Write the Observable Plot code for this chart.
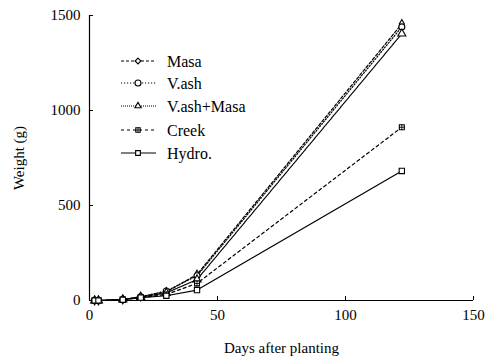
<!DOCTYPE html>
<html><head><meta charset="utf-8">
<script src="https://cdn.jsdelivr.net/npm/d3@7"></script>
<script src="https://cdn.jsdelivr.net/npm/@observablehq/plot@0.6"></script>
<style>
body{margin:0;background:#fff;}
#wrap{position:relative;width:492px;height:359px;}
#legend{position:absolute;left:0;top:0;}
</style></head>
<body><div id="wrap"></div>
<script>
const days = [2, 3.5, 13, 20, 30, 42, 122];
const seriesNames = ["Masa", "V.ash", "V.ash+Masa", "Creek", "Hydro."];
const masa = [0, 0, 5, 20, 45, 137, 1456];
const vash = [0, 0, 5, 20, 50, 130, 1440];
const vashMasa = [0, 0, 5, 18, 40, 110, 1404];
const creek = [0, 0, 4, 15, 32, 90, 912];
const hydro = [0, 0, 4, 15, 25, 55, 682];
const xTicks = [0, 50, 100, 150];
const yTicks = [0, 500, 1000, 1500];
const xLabel = "Days after planting";
const yLabel = "Weight (g)";

const values = [masa, vash, vashMasa, creek, hydro];
const styles = [
  {dash: "3,2", symbol: "diamond", r: 2.6},
  {dash: "1.2,1.8", symbol: "circle", r: 3},
  {dash: "1,1", symbol: "triangle", r: 3},
  {dash: "3,3", symbol: "square", r: 2.8},
  {dash: null, symbol: "square", r: 3}
];
const data = [];
seriesNames.forEach((s, i) => days.forEach((d, j) => data.push({series: s, day: d, w: values[i][j]})));

const marks = [
  Plot.ruleX([0], {strokeWidth: 1.2}),
  Plot.ruleY([0], {strokeWidth: 1.2}),
  Plot.axisX({ticks: xTicks, tickSize: -4, tickPadding: 13, tickFormat: d => String(d), label: xLabel, labelAnchor: "center", labelOffset: 52, labelArrow: "none"}),
  Plot.axisY({ticks: yTicks, tickSize: -4, tickPadding: 13, tickFormat: d => String(d), label: yLabel, labelAnchor: "center", labelOffset: 76, labelArrow: "none"})
];
seriesNames.forEach((s, i) => {
  const st = styles[i];
  const sub = data.filter(d => d.series === s);
  marks.push(Plot.line(sub, {x: "day", y: "w", stroke: "black", strokeWidth: 1.2, strokeDasharray: st.dash}));
});
seriesNames.forEach((s, i) => {
  const st = styles[i];
  const sub = data.filter(d => d.series === s);
  marks.push(Plot.dot(sub, {x: "day", y: "w", symbol: st.symbol, r: st.r, stroke: "black", fill: "white", strokeWidth: 1.1}));
  if (s === "Creek") marks.push(Plot.dot(sub, {x: "day", y: "w", symbol: "plus", r: 2, stroke: "black", strokeWidth: 0.9}));
});

const chart = Plot.plot({
  width: 492, height: 359,
  marginLeft: 89, marginRight: 19, marginTop: 15, marginBottom: 59,
  x: {domain: [0, 150]},
  y: {domain: [0, 1500]},
  style: {fontFamily: "'Liberation Serif', serif", fontSize: "15px", color: "black", background: "white"},
  marks
});
document.getElementById("wrap").appendChild(chart);

// legend overlay
const lg = d3.select("#wrap").append("svg").attr("id", "legend").attr("width", 492).attr("height", 359);
const rowY = [61, 83, 106, 130, 153];
const symbols = {diamond: d3.symbolDiamond2, circle: d3.symbolCircle, triangle: d3.symbolTriangle2, square: d3.symbolSquare2};
seriesNames.forEach((s, i) => {
  const st = styles[i];
  const g = lg.append("g").attr("transform", `translate(0,${rowY[i]})`);
  g.append("line").attr("x1", 121).attr("x2", 156).attr("stroke", "black").attr("stroke-width", 1.2).attr("stroke-dasharray", st.dash);
  g.append("path").attr("transform", "translate(138,0)").attr("d", d3.symbol(symbols[st.symbol], Math.PI * st.r * st.r)()).attr("fill", "white").attr("stroke", "black").attr("stroke-width", 1.1);
  if (s === "Creek") g.append("path").attr("transform", "translate(138,0)").attr("d", d3.symbol(d3.symbolPlus, 12)()).attr("fill", "none").attr("stroke", "black").attr("stroke-width", 0.9);
  g.append("text").attr("x", 167).attr("dy", "0.35em").attr("font-family", "'Liberation Serif', serif").attr("font-size", 16).text(s);
});
</script></body></html>
